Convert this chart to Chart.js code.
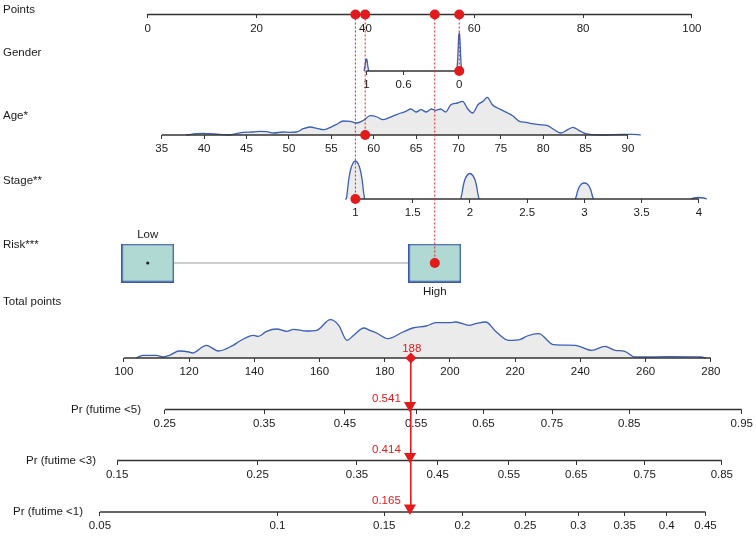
<!DOCTYPE html>
<html>
<head>
<meta charset="utf-8">
<script src="https://cdn.jsdelivr.net/npm/chart.js@4/dist/chart.umd.min.js"></script>
<style>
  html, body { margin: 0; padding: 0; background: #fff; }
</style>
</head>
<body>
<canvas id="nomo" width="756" height="536"></canvas>
<script>
// tick labels of each row
const pointsTicks = [0, 20, 40, 60, 80, 100];
const genderTicks = [1, 0.6, 0];
const ageTicks = [35, 40, 45, 50, 55, 60, 65, 70, 75, 80, 85, 90];
const stageTicks = [1, 1.5, 2, 2.5, 3, 3.5, 4];
const riskLevels = ['Low', 'High'];
const totalTicks = [100, 120, 140, 160, 180, 200, 220, 240, 260, 280];
const pr5Ticks = [0.25, 0.35, 0.45, 0.55, 0.65, 0.75, 0.85, 0.95];
const pr3Ticks = [0.15, 0.25, 0.35, 0.45, 0.55, 0.65, 0.75, 0.85];
const pr1Ticks = [0.05, 0.1, 0.15, 0.2, 0.25, 0.3, 0.35, 0.4, 0.45];

const rowNames = ['Points', 'Gender', 'Age*', 'Stage**', 'Risk***', 'Total points',
  'Pr (futime <5)', 'Pr (futime <3)', 'Pr (futime <1)'];

// the patient shown in red
const patientGender = 0;
const patientAge = 59;
const patientStage = 1;
const patientRisk = 'High';
const totalPoints = 188;
const predProb = [0.541, 0.414, 0.165]; // <5, <3, <1

// density curves (relative heights)
const genderDensX = [1.025, 1.015, 1.006, 1.0, 0.994, 0.985, 0.975, 0.5, 0.025, 0.015, 0.006, 0, -0.006, -0.015, -0.025];
const genderDensY = [0, 5, 11, 12, 11, 5, 0, null, 0, 15, 34, 38, 34, 15, 0];

const ageDensX = [37.9, 39.1, 39.9, 40.6, 41.8, 43.0, 43.8, 44.6, 45.8, 46.6, 47.4, 48.2, 49.3, 50.1, 50.9,
  51.7, 52.5, 53.3, 54.1, 54.9, 55.7, 56.4, 57.2, 58.0, 58.8, 59.6, 60.4, 61.1, 62.2, 63.2,
  63.8, 64.4, 65.0, 65.6, 66.2, 66.8, 67.3, 67.9, 68.5, 69.1, 69.9, 70.5, 71.1, 71.7, 72.3,
  72.9, 73.4, 74.0, 74.6, 75.2, 75.8, 76.4, 77.2, 78.0, 78.7, 79.5, 80.5, 81.3, 82.1, 82.9,
  83.5, 84.2, 85.0, 85.8, 87.4, 89.4, 90.5, 91.5];
const ageDensY = [0, 1.3, 1.7, 1.3, 0.7, 0, 1.3, 2.7, 3, 3.7, 3.3, 2, 3, 2.7, 3,
  6.3, 8, 6.7, 5.3, 7.7, 11, 14, 13.7, 12, 14.7, 19.3, 18, 15.3, 18.7, 22,
  23.7, 26, 23, 25.3, 23, 26, 24.7, 26, 23, 30.3, 32, 33.7, 26, 22, 30.3,
  33.7, 37.7, 30.3, 27, 24.7, 22, 19.3, 13.7, 12.7, 11.3, 10.3, 9.3, 5.3, 2, 5.3,
  7.7, 4.7, 1.3, 0.3, 0, 0.7, 0.7, 0];

const stageDensX = [0.91, 0.92, 0.93, 0.94, 0.955, 0.975, 1.0, 1.025, 1.045, 1.06, 1.07, 1.08, 1.5,
  1.92, 1.93, 1.94, 1.955, 1.975, 2.0, 2.025, 2.045, 2.06, 2.07, 2.08, 2.5,
  2.92, 2.93, 2.94, 2.955, 2.975, 3.0, 3.025, 3.045, 3.06, 3.07, 3.08, 3.5,
  3.93, 3.96, 4.0, 4.04, 4.07];
const stageDensY = [0, 0, 8, 18, 28, 35, 38, 35, 28, 18, 8, 0, null,
  0, 5, 12, 19, 23.5, 25.5, 23.5, 19, 12, 5, 0, null,
  0, 3, 7.5, 12, 15, 16, 15, 12, 7.5, 3, 0, null,
  0, 1, 1.5, 1, 0];

const totalDensX = [103.8, 105.8, 110, 112, 114, 117, 120, 121, 125.3, 129, 133.5, 135.6, 139.7, 141.2, 143.8,
  146.9, 150, 152, 156, 159.2, 163.3, 165.9, 168.4, 170.5, 173.6, 175.4, 177.5, 181, 185.6, 188.6,
  192.7, 195.7, 199.8, 201.8, 205.9, 207.9, 211, 214, 218, 221.6, 223.7, 227.2, 231.8, 238.4, 243.5,
  247.5, 250.6, 253.6, 256.6, 259.7, 266.8, 277, 278.5];
const totalDensY = [0, 2.7, 2.7, 1, 2.7, 7, 6, 5, 12.7, 7, 12.7, 17, 22.7, 21.7, 26.7,
  29, 26.7, 28.7, 27, 27.7, 38.3, 32.7, 17.7, 22.7, 30, 27.7, 25, 19.3, 26, 30,
  32, 35.3, 35.3, 36, 32.7, 34.3, 36, 26.7, 17.7, 18.7, 22, 24.3, 13.3, 12.7, 7.7,
  11.7, 7.7, 6.7, 1, 1, 1.3, 1, 0];

// ---- layout ----
const W = 756, H = 536;
const RED = '#e31a1c', BLUE = '#3a5fb3', AXIS = '#333333', TXT = '#1a1a1a';
const rowY = { pts: 14.5, gender: 71, age: 135, stage: 199, risk: 263, total: 358, pr5: 409.5, pr3: 460.5, pr1: 512 };

const cll = p => Math.log(-Math.log(1 - p)); // probability axes are cloglog spaced
const ident = v => v;

// [value1, pixel1, value2, pixel2] for each horizontal scale
const anchors = {
  xPts: [0, 148, 100, 693],
  xGender: [1, 367, 0, 460],
  xAge: [35, 162, 90, 629],
  xStage: [1, 356, 4, 700],
  xRisk: [0, 148, 1, 435.5],
  xTotal: [100, 124, 280, 712],
  xPr5: [cll(0.25), 165, cll(0.95), 743],
  xPr3: [cll(0.15), 117.3, cll(0.85), 723],
  xPr1: [cll(0.05), 100, cll(0.45), 706.7]
};

function xSpan(a) {
  const k = (a[2] - a[0]) / (a[3] - a[1]);
  const lo = a[0] - a[1] * k, hi = a[0] + (W - a[1]) * k;
  return k > 0 ? { min: lo, max: hi, reverse: false } : { min: hi, max: lo, reverse: true };
}

function axisX(id, row, ticks, tf) {
  return Object.assign({
    type: 'linear', axis: 'x', bounds: 'data',
    position: { yRow: row },
    afterBuildTicks: s => { s.ticks = ticks.map(v => ({ value: tf(v) })); },
    ticks: { autoSkip: false, maxRotation: 0, minRotation: 0, padding: 3, color: TXT,
      callback: (v, i) => String(ticks[i]) },
    grid: { drawOnChartArea: false, drawTicks: true, tickLength: 4, color: AXIS, lineWidth: 1 },
    border: { display: false }
  }, xSpan(anchors[id]));
}

function densY(row) {
  return { type: 'linear', axis: 'y', display: false, min: row - H, max: row };
}

function densSet(xs, ys, xId, yId) {
  return {
    data: xs.map((x, i) => ({ x: x, y: ys[i] })), xAxisID: xId, yAxisID: yId,
    showLine: true, pointRadius: 0, borderColor: BLUE, borderWidth: 1.3,
    backgroundColor: '#ebebeb', fill: 'origin', cubicInterpolationMode: 'monotone', order: 6
  };
}

function axisLine(ticks, tf, xId, row) {
  return {
    data: [{ x: tf(ticks[0]), y: row }, { x: tf(ticks[ticks.length - 1]), y: row }],
    xAxisID: xId, yAxisID: 'yRow', showLine: true, pointRadius: 0,
    borderColor: AXIS, borderWidth: 1.3, order: 5
  };
}

// dashed red link from the Points row down to the patient's value
function link(val, xId, row) {
  return {
    data: [{ x: val, y: rowY.pts }, { x: val, y: row }], xAxisID: xId, yAxisID: 'yRow',
    showLine: true, borderColor: RED, borderWidth: 1, borderDash: [2, 2],
    pointRadius: 5, pointBackgroundColor: RED, pointBorderColor: RED, pointBorderWidth: 0, order: 2
  };
}

function boxSprite(w, h) {
  const c = document.createElement('canvas');
  c.width = w; c.height = h;
  const g = c.getContext('2d');
  g.fillStyle = '#afd9d2';
  g.fillRect(0, 0, w, h);
  g.strokeStyle = '#3858aa';
  g.lineWidth = 1.5;
  g.strokeRect(0.75, 0.75, w - 1.5, h - 1.5);
  return c;
}

const prIds = ['xPr5', 'xPr3', 'xPr1'];
const prRows = [rowY.pr5, rowY.pr3, rowY.pr1];

const datasets = [
  densSet(genderDensX, genderDensY, 'xGender', 'yGenD'),
  densSet(ageDensX, ageDensY, 'xAge', 'yAgeD'),
  densSet(stageDensX, stageDensY, 'xStage', 'yStageD'),
  densSet(totalDensX, totalDensY, 'xTotal', 'yTotalD'),
  axisLine(pointsTicks, ident, 'xPts', rowY.pts),
  axisLine(genderTicks, ident, 'xGender', rowY.gender),
  axisLine(ageTicks, ident, 'xAge', rowY.age),
  axisLine(stageTicks, ident, 'xStage', rowY.stage),
  axisLine(totalTicks, ident, 'xTotal', rowY.total),
  axisLine(pr5Ticks, cll, 'xPr5', rowY.pr5),
  axisLine(pr3Ticks, cll, 'xPr3', rowY.pr3),
  axisLine(pr1Ticks, cll, 'xPr1', rowY.pr1),
  { // connector between the risk boxes
    data: riskLevels.map((r, i) => ({ x: i, y: rowY.risk })), xAxisID: 'xRisk', yAxisID: 'yRow',
    showLine: true, pointRadius: 0, borderColor: '#bdbdbd', borderWidth: 1.5, order: 4
  },
  {
    data: riskLevels.map((r, i) => ({ x: i, y: rowY.risk })), xAxisID: 'xRisk', yAxisID: 'yRow',
    pointStyle: boxSprite(53, 39), pointRadius: 20, order: 3
  },
  {
    data: [{ x: 0, y: rowY.risk }], xAxisID: 'xRisk', yAxisID: 'yRow',
    pointRadius: 1.6, pointBackgroundColor: '#222', pointBorderWidth: 0, order: 2
  },
  link(patientStage, 'xStage', rowY.stage),
  link(patientAge, 'xAge', rowY.age),
  link(riskLevels.indexOf(patientRisk), 'xRisk', rowY.risk),
  link(patientGender, 'xGender', rowY.gender),
  {
    data: [{ x: totalPoints, y: rowY.total }, { x: totalPoints, y: rowY.pr1 }], xAxisID: 'xTotal', yAxisID: 'yRow',
    showLine: true, pointRadius: 0, borderColor: RED, borderWidth: 1.6, order: 1
  },
  {
    data: [{ x: totalPoints, y: rowY.total }], xAxisID: 'xTotal', yAxisID: 'yRow',
    pointStyle: 'rectRot', pointRadius: 5.5, pointBackgroundColor: RED, pointBorderWidth: 0, order: 1
  }
].concat(predProb.map((p, k) => ({
  data: [{ x: cll(p), y: prRows[k] - 4 }], xAxisID: prIds[k], yAxisID: 'yRow',
  pointStyle: 'triangle', pointRotation: 180, pointRadius: 7,
  pointBackgroundColor: RED, pointBorderWidth: 0, order: 1
})));

// row names, the red readouts and the Low / High labels
const labelPos = [[3, 10, 'left'], [3, 53, 'left'], [3, 116, 'left'], [3, 181, 'left'], [3, 245, 'left'],
  [3, 302, 'left'], [141, 410, 'right'], [96, 461, 'right'], [83, 512, 'right']];

const textPlugin = {
  id: 'nomoText',
  afterDatasetsDraw(chart) {
    const ctx = chart.ctx, s = chart.scales;
    const py = v => s.yRow.getPixelForValue(v);
    ctx.save();
    ctx.font = '11.5px "Liberation Sans", Arial, sans-serif';
    ctx.textBaseline = 'middle';
    ctx.fillStyle = TXT;
    rowNames.forEach((name, i) => {
      ctx.textAlign = labelPos[i][2];
      ctx.fillText(name, labelPos[i][0], labelPos[i][1]);
    });
    ctx.textAlign = 'center';
    ctx.fillText(riskLevels[0], s.xRisk.getPixelForValue(0), py(rowY.risk) - 28);
    ctx.fillText(riskLevels[1], s.xRisk.getPixelForValue(1), py(rowY.risk) + 29);
    ctx.fillStyle = RED;
    const lx = s.xTotal.getPixelForValue(totalPoints);
    ctx.fillText(String(totalPoints), lx + 1, py(rowY.total) - 9);
    ctx.textAlign = 'right';
    predProb.forEach((p, k) => ctx.fillText(p.toFixed(3), lx - 10, py(prRows[k]) - 11));
    ctx.restore();
  }
};

Chart.defaults.font.family = '"Liberation Sans", Arial, sans-serif';
Chart.defaults.font.size = 11.5;
Chart.defaults.color = TXT;

new Chart(document.getElementById('nomo'), {
  type: 'scatter',
  data: { datasets: datasets },
  options: {
    responsive: false,
    animation: false,
    events: [],
    layout: { padding: 0, autoPadding: false },
    plugins: { legend: { display: false }, tooltip: { enabled: false } },
    scales: {
      yRow: { type: 'linear', axis: 'y', display: false, min: 0, max: H, reverse: true },
      yGenD: densY(rowY.gender),
      yAgeD: densY(rowY.age),
      yStageD: densY(rowY.stage),
      yTotalD: densY(rowY.total),
      xPts: axisX('xPts', rowY.pts, pointsTicks, ident),
      xGender: axisX('xGender', rowY.gender, genderTicks, ident),
      xAge: axisX('xAge', rowY.age, ageTicks, ident),
      xStage: axisX('xStage', rowY.stage, stageTicks, ident),
      xRisk: Object.assign({ type: 'linear', axis: 'x', display: false, bounds: 'data' }, xSpan(anchors.xRisk)),
      xTotal: axisX('xTotal', rowY.total, totalTicks, ident),
      xPr5: axisX('xPr5', rowY.pr5, pr5Ticks, cll),
      xPr3: axisX('xPr3', rowY.pr3, pr3Ticks, cll),
      xPr1: axisX('xPr1', rowY.pr1, pr1Ticks, cll)
    }
  },
  plugins: [textPlugin]
});
</script>
</body>
</html>
